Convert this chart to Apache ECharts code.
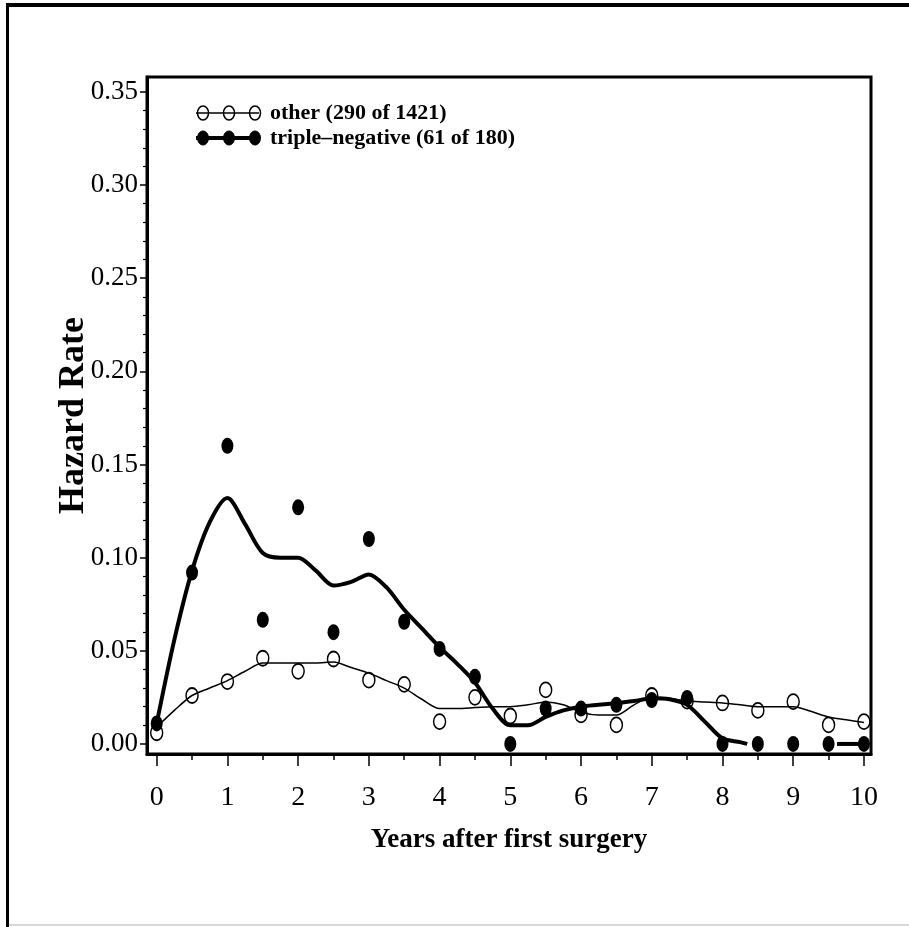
<!DOCTYPE html>
<html>
<head>
<meta charset="utf-8">
<script src="https://cdn.jsdelivr.net/npm/echarts@6/dist/echarts.min.js"></script>
<style>html,body{margin:0;padding:0;background:#fff;}#c{width:909px;height:927px;}</style>
</head>
<body>
<div id="c"></div>
<script>
// ---- data ----
const pointYears = [0,0.5,1,1.5,2,2.5,3,3.5,4,4.5,5,5.5,6,6.5,7,7.5,8,8.5,9,9.5,10];
const otherPoints = [0.006,0.026,0.0335,0.046,0.039,0.0456,0.0343,0.032,0.012,0.025,0.015,0.029,0.0156,0.0102,0.026,0.023,0.022,0.018,0.0227,0.0102,0.012];
const triplePoints = [0.011,0.092,0.160,0.0666,0.127,0.060,0.110,0.0656,0.051,0.036,0.0,0.019,0.019,0.021,0.0236,0.0247,0,0,0,0,0];

const otherCurveYears = [0,0.25,0.5,0.75,1,1.25,1.5,1.75,2,2.25,2.5,2.75,3,3.25,3.5,3.75,4,4.25,4.5,4.75,5,5.25,5.5,5.75,6,6.25,6.5,6.75,7,7.25,7.5,7.75,8,8.25,8.5,8.75,9,9.25,9.5,9.75,10];
const otherCurve = [0.009,0.018,0.026,0.030,0.034,0.039,0.0435,0.0435,0.0435,0.0435,0.044,0.041,0.038,0.034,0.030,0.024,0.019,0.019,0.0195,0.020,0.020,0.021,0.0225,0.021,0.017,0.0155,0.0155,0.021,0.025,0.0245,0.023,0.0225,0.022,0.021,0.020,0.020,0.020,0.0175,0.0145,0.013,0.0115];

const tripleCurveYears = [0,0.25,0.5,0.75,1,1.25,1.5,1.75,2,2.25,2.5,2.75,3,3.25,3.5,3.75,4,4.25,4.5,4.75,5,5.25,5.5,5.75,6,6.25,6.5,6.75,7,7.25,7.5,7.75,8,8.25,8.35];
const tripleCurve = [0.011,0.056,0.093,0.119,0.132,0.118,0.1025,0.100,0.100,0.093,0.085,0.087,0.091,0.084,0.072,0.062,0.052,0.043,0.033,0.019,0.010,0.010,0.0145,0.018,0.020,0.021,0.022,0.023,0.0245,0.024,0.021,0.012,0.003,0.001,0.0];
const tripleTailYears = [9.62,10];
const tripleTail = [0,0];

const xTicks = [0,1,2,3,4,5,6,7,8,9,10];
const xMinorTicks = [0.5,1.5,2.5,3.5,4.5,5.5,6.5,7.5,8.5,9.5];
const yTicks = [0,0.05,0.10,0.15,0.20,0.25,0.30,0.35];
const yMinorTicks = [0.01,0.02,0.03,0.04,0.06,0.07,0.08,0.09,0.11,0.12,0.13,0.14,0.16,0.17,0.18,0.19,0.21,0.22,0.23,0.24,0.26,0.27,0.28,0.29,0.31,0.32,0.33,0.34];

const legendLabels = ['other (290 of 1421)', 'triple\u2013negative (61 of 180)'];
const xTitle = 'Years after first surgery';
const yTitle = 'Hazard Rate';

// ---- chart ----
const FONT = '"Liberation Serif", "Times New Roman", serif';
const zip = (a, b) => a.map((v, i) => [v, b[i]]);
const X_MIN = -0.137, X_MAX = 10.1, Y_MIN = -0.0054, Y_MAX = 0.358;

const chart = echarts.init(document.getElementById('c'));
const xBase = {
  type: 'value', min: X_MIN, max: X_MAX, gridIndex: 0, position: 'bottom',
  splitLine: {show: false}
};
const yBase = {
  type: 'value', min: Y_MIN, max: Y_MAX, gridIndex: 0, position: 'left',
  splitLine: {show: false}
};

function legendGraphic(y, filled, text, lw) {
  const xs = [203, 229, 255];
  const els = [{
    type: 'line', shape: {x1: 196, y1: y, x2: 259, y2: y},
    style: {stroke: '#000', lineWidth: lw}
  }];
  xs.forEach(cx => els.push({
    type: 'ellipse', shape: {cx: cx, cy: y, rx: 5.5, ry: 7},
    style: filled ? {fill: '#000', stroke: '#000', lineWidth: 1} : {fill: 'transparent', stroke: '#000', lineWidth: 1.5}
  }));
  els.push({
    type: 'text', x: 270, y: y,
    style: {text: text, font: 'bold 22px ' + FONT, fill: '#000', verticalAlign: 'middle', align: 'left'}
  });
  return els;
}

chart.setOption({
  animation: false,
  backgroundColor: '#fff',
  grid: {left: 147, top: 77, right: 38, bottom: 173, show: true, borderColor: '#000', borderWidth: 3, backgroundColor: 'transparent'},
  xAxis: [
    Object.assign({}, xBase, {
      name: xTitle, nameLocation: 'middle', nameGap: 73, nameMoveOverlap: false,
      nameTextStyle: {fontFamily: FONT, fontWeight: 'bold', fontSize: 27, color: '#000', verticalAlign: 'top'},
      axisLine: {show: true, onZero: false, lineStyle: {color: '#000', width: 3}},
      axisTick: {show: true, inside: false, length: 12, lineStyle: {color: '#000', width: 1.5}, customValues: xTicks},
      axisLabel: {show: true, margin: 30, fontFamily: FONT, fontSize: 28, color: '#000', customValues: xTicks, formatter: v => String(v)}
    }),
    Object.assign({}, xBase, {
      axisLine: {show: false, onZero: false},
      axisTick: {show: true, inside: false, length: 6, lineStyle: {color: '#000', width: 1.5}, customValues: xMinorTicks},
      axisLabel: {show: false}
    })
  ],
  yAxis: [
    Object.assign({}, yBase, {
      name: yTitle, nameLocation: 'middle', nameGap: 55, nameRotate: 90, nameMoveOverlap: false,
      nameTextStyle: {fontFamily: FONT, fontWeight: 'bold', fontSize: 36, color: '#000'},
      axisLine: {show: true, onZero: false, lineStyle: {color: '#000', width: 3}},
      axisTick: {show: true, inside: false, length: 7, lineStyle: {color: '#000', width: 1.5}, customValues: yTicks},
      axisLabel: {show: true, margin: 9, fontFamily: FONT, fontSize: 27, color: '#000', customValues: yTicks, formatter: v => v.toFixed(2)}
    }),
    Object.assign({}, yBase, {
      axisLine: {show: false, onZero: false},
      axisTick: {show: true, inside: false, length: 4, lineStyle: {color: '#000', width: 1.2}, customValues: yMinorTicks},
      axisLabel: {show: false}
    })
  ],
  series: [
    {
      name: 'otherCurve', type: 'line', data: zip(otherCurveYears, otherCurve),
      smooth: 0.3, showSymbol: false, lineStyle: {color: '#000', width: 1.5}, z: 2, silent: true
    },
    {
      name: 'otherPts', type: 'scatter', data: zip(pointYears, otherPoints),
      symbol: 'circle', symbolSize: [12, 15],
      itemStyle: {color: 'rgba(255,255,255,0)', borderColor: '#000', borderWidth: 1.6, opacity: 1}, z: 3, silent: true
    },
    {
      name: 'tripleCurve', type: 'line', data: zip(tripleCurveYears, tripleCurve),
      smooth: 0.3, showSymbol: false, lineStyle: {color: '#000', width: 4}, z: 4, silent: true
    },
    {
      name: 'tripleTail', type: 'line', data: zip(tripleTailYears, tripleTail),
      showSymbol: false, lineStyle: {color: '#000', width: 4}, z: 4, silent: true
    },
    {
      name: 'triplePts', type: 'scatter', data: zip(pointYears, triplePoints),
      symbol: 'circle', symbolSize: [12, 16],
      itemStyle: {color: '#000', borderColor: '#000', borderWidth: 0, opacity: 1}, z: 5, silent: true
    }
  ],
  graphic: [
    {type: 'rect', shape: {x: 6, y: 3, width: 903, height: 4}, style: {fill: '#000'}},
    {type: 'rect', shape: {x: 6, y: 3, width: 3, height: 924}, style: {fill: '#000'}},
    {type: 'rect', shape: {x: 9, y: 924, width: 900, height: 2}, style: {fill: '#d8d8d8'}}
  ].concat(legendGraphic(113, false, legendLabels[0], 1.5))
   .concat(legendGraphic(138, true, legendLabels[1], 4))
});
</script>
</body>
</html>
